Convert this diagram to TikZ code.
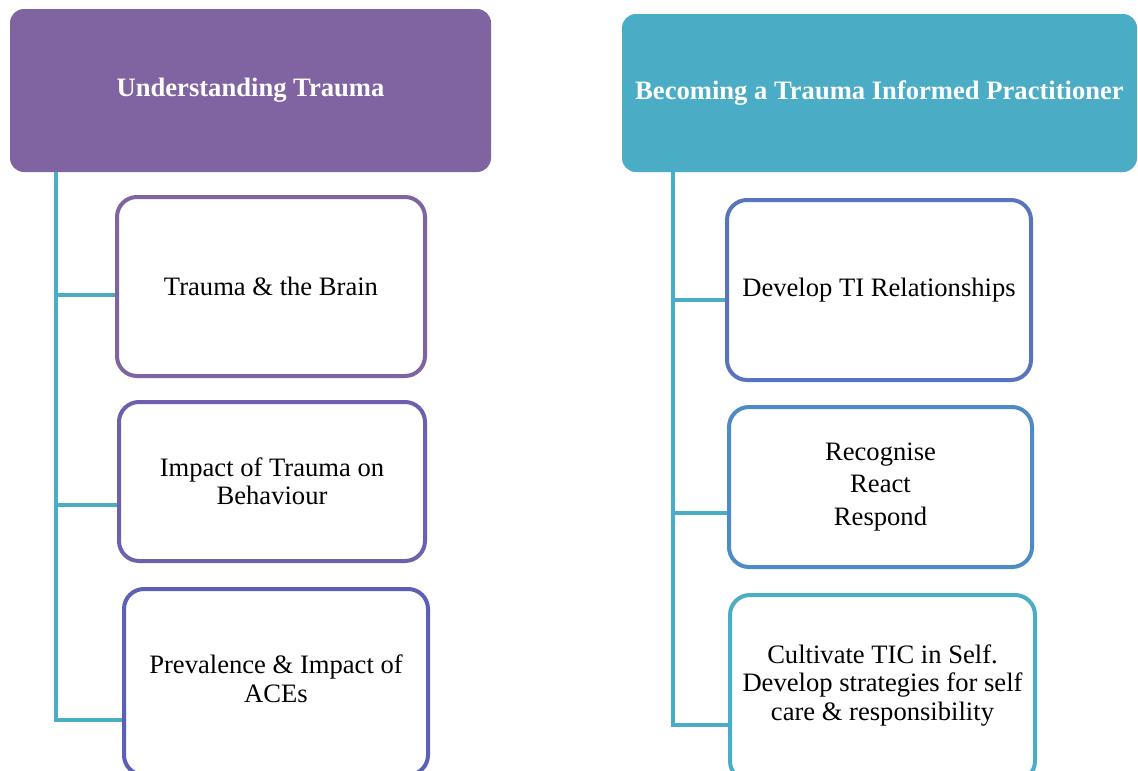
\documentclass[tikz,border=0pt]{standalone}
\usepackage{fontspec}
\setmainfont{Liberation Serif}
\definecolor{hpurple}{HTML}{8064A2}
\definecolor{haqua}{HTML}{4BACC6}
\definecolor{bpa}{HTML}{8064A2}
\definecolor{bpb}{HTML}{6F5FAE}
\definecolor{bpc}{HTML}{5B5FB5}
\definecolor{bra}{HTML}{5874BE}
\definecolor{brb}{HTML}{4E8BC5}
\definecolor{brc}{HTML}{4BACC6}
\begin{document}
\begin{tikzpicture}[x=1pt,y=-1pt,
  header/.style={rounded corners=14pt, inner sep=0pt, text=white, align=center,
     font=\fontsize{26.6}{30}\selectfont\bfseries},
  itembox/.style={draw, line width=4pt, rounded corners=20pt, fill=white, inner sep=0pt,
     align=center, font=\fontsize{26.6}{28.5}\selectfont},
  conn/.style={draw=haqua, line width=4pt}]
\useasboundingbox (0,0) rectangle (1138,771);
\fill[white] (0,0) rectangle (1138,771);

% left column
\node[header, fill=hpurple, minimum width=481pt, minimum height=163pt] (h1) at (250.5,90.5) {Understanding Trauma};
\coordinate (ltop) at (56,172);
\coordinate (lbot) at (56,720);
\coordinate (l1) at (56,295);
\coordinate (l2) at (56,505);

\node[itembox, draw=bpa, minimum width=308pt, minimum height=179pt] (b1) at (271,286.5) {Trauma \& the Brain};
\node[itembox, draw=bpb, minimum width=306pt, minimum height=159pt] (b2) at (272,481.5) {Impact of Trauma on\\Behaviour};
\node[itembox, draw=bpc, minimum width=304pt, minimum height=186pt] (b3) at (276,682) {};
\node[font=\fontsize{26.6}{28.5}\selectfont, align=center, inner sep=0pt] (b3t) at (276,679) {Prevalence \& Impact of\\ACEs};

\draw[conn] (ltop) -- (lbot) -- (lbot -| b3.west);
\draw[conn] (l1) -- (l1 -| b1.west);
\draw[conn] (l2) -- (l2 -| b2.west);

% right column
\node[header, fill=haqua, minimum width=515pt, minimum height=158pt] (h2) at (879.5,93) {Becoming a Trauma Informed Practitioner};
\coordinate (rtop) at (673,172);
\coordinate (rbot) at (673,725);
\coordinate (r1c) at (673,300);
\coordinate (r2c) at (673,513);

\node[itembox, draw=bra, minimum width=304pt, minimum height=180pt] (r1) at (879,290) {Develop TI Relationships};
\node[itembox, draw=brb, minimum width=303pt, minimum height=160pt] (r2) at (880.5,487) {Recognise\\[4pt]React\\[4pt]Respond};
\node[itembox, draw=brc, minimum width=305pt, minimum height=186pt] (r3) at (882.5,688) {};
\node[font=\fontsize{26.6}{28.5}\selectfont, align=center, inner sep=0pt] (r3t) at (882.5,685) {Cultivate TIC in Self.\\Develop strategies for self\\care \& responsibility};

\draw[conn] (rtop) -- (rbot) -- (rbot -| r3.west);
\draw[conn] (r1c) -- (r1c -| r1.west);
\draw[conn] (r2c) -- (r2c -| r2.west);
\end{tikzpicture}
\end{document}
